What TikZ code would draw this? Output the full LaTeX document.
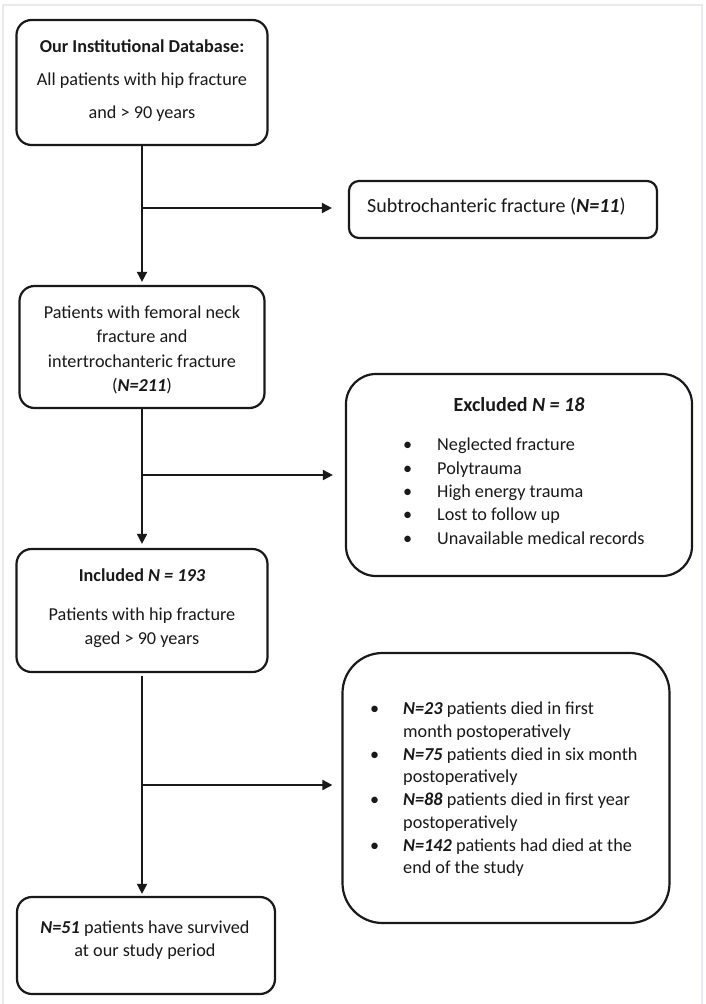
\documentclass[tikz,border=0pt]{standalone}
\usepackage{fontspec}
\setmainfont{Carlito}
\usetikzlibrary{arrows.meta,calc}
\definecolor{frame}{RGB}{236,232,242}
\definecolor{ink}{RGB}{25,25,25}
\begin{document}
\begin{tikzpicture}[x=1pt,y=-1pt,
  box/.style={draw=ink,line width=2.2pt,rounded corners=#1,inner sep=0pt,fill=white},
  box/.default=15pt,
  txt/.style={font=\fontsize{18.2}{23.5}\selectfont,text=ink,inner sep=0pt,align=center},
  ltxt/.style={font=\fontsize{18.2}{23}\selectfont,text=ink,inner sep=0pt,align=left},
  conn/.style={draw=ink,line width=1.8pt},
  arr/.style={conn,-{Triangle[length=10pt,width=10pt]}}]
\useasboundingbox (0,0) rectangle (706,1004);
\draw[frame,line width=1.5pt] (3,1004) -- (3,5) -- (702,5) -- (702,1004);

% boxes
\node[box,minimum width=251pt,minimum height=125pt] (db) at (142,82.5) {};
\node[txt,font=\fontsize{18.2}{33}\selectfont] (dbt) at (142,81) {\textbf{Our Institutional Database:}\\All patients with hip fracture\\and > 90 years};

\node[box=10pt,minimum width=308pt,minimum height=57pt] (sub) at (503,209.5) {};
\node[txt,anchor=west,font=\fontsize{20}{24}\selectfont] (subt) at (367,207) {Subtrochanteric fracture (\textbf{\textit{N=11}})};

\node[box,minimum width=245pt,minimum height=122pt] (pf) at (142,347) {};
\node[txt,font=\fontsize{18.2}{24.3}\selectfont] (pft) at (142,350) {Patients with femoral neck\\fracture and\\intertrochanteric fracture\\(\textbf{\textit{N=211}})};

\node[box=30pt,minimum width=346pt,minimum height=202pt] (exc) at (519,475) {};
\node[txt,font=\fontsize{20}{24}\selectfont] (exct) at (519,405) {\textbf{Excluded \textit{N = 18}}};
\node[ltxt,anchor=north west,font=\fontsize{18.2}{23.3}\selectfont] (excl) at (403,438) {%
\makebox[34pt][l]{\textbullet}Neglected fracture\\
\makebox[34pt][l]{\textbullet}Polytrauma\\
\makebox[34pt][l]{\textbullet}High energy trauma\\
\makebox[34pt][l]{\textbullet}Lost to follow up\\
\makebox[34pt][l]{\textbullet}Unavailable medical records};

\node[box,minimum width=251pt,minimum height=123pt] (inc) at (142,610.5) {};
\node[txt] (inct) at (142,575) {\textbf{Included \textit{N = 193}}};
\node[txt] (incd) at (142,627.5) {Patients with hip fracture\\aged > 90 years};

\node[box=40pt,minimum width=327pt,minimum height=270pt] (died) at (506,788) {};
\node[ltxt,anchor=north west,font=\fontsize{18.2}{22.7}\selectfont] (diedt) at (370,702) {%
\makebox[33pt][l]{\textbullet}\textbf{\textit{N=23}} patients died in first\\
\hspace*{33pt}month postoperatively\\
\makebox[33pt][l]{\textbullet}\textbf{\textit{N=75}} patients died in six month\\
\hspace*{33pt}postoperatively\\
\makebox[33pt][l]{\textbullet}\textbf{\textit{N=88}} patients died in first year\\
\hspace*{33pt}postoperatively\\
\makebox[33pt][l]{\textbullet}\textbf{\textit{N=142}} patients had died at the\\
\hspace*{33pt}end of the study};

\node[box,minimum width=258pt,minimum height=97pt] (fin) at (146,945.5) {};
\node[txt] (fint) at (145,940) {\textbf{\textit{N=51}} patients have survived\\at our study period};

% connectors
\coordinate (j1) at (142,208);
\coordinate (j2) at (142,475);
\coordinate (j3) at (142,785);
\draw[arr,shorten >=3pt] (db.south) -- (pf.north);
\draw[arr,shorten >=16pt] (j1) -- (j1 -| sub.west);
\draw[arr,shorten >=4pt] (pf.south) -- (inc.north);
\draw[arr,shorten >=12pt] (j2) -- (j2 -| exc.west);
\draw[arr,shorten <=3pt,shorten >=2pt] (inc.south) -- (inc.south |- fin.north);
\draw[arr,shorten >=9pt] (j3) -- (j3 -| died.west);
\end{tikzpicture}
\end{document}
